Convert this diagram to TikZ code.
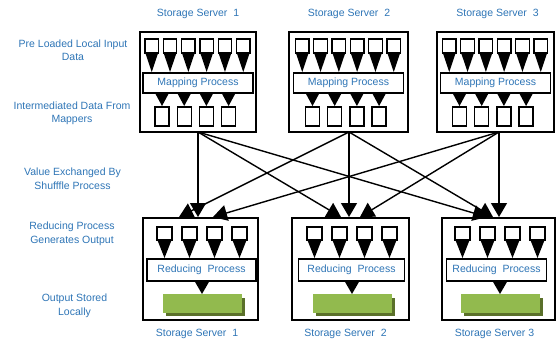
\documentclass[tikz,border=0pt]{standalone}
\usepackage{fontspec}
\setmainfont{Liberation Sans}
\usetikzlibrary{arrows.meta}
\definecolor{labelblue}{RGB}{46,117,182}
\definecolor{barlight}{RGB}{212,232,170}
\definecolor{baredge}{RGB}{146,186,78}
\definecolor{barshadow}{RGB}{90,112,42}

\begin{document}
\begin{tikzpicture}[x=1pt,y=-1pt,
  txt/.style={text=labelblue, font=\fontsize{10.5}{13.5}\selectfont, align=center, inner sep=0pt},
  serverbox/.style={draw, line width=1.8pt, fill=white, inner sep=0pt},
  procbox/.style={draw, line width=1.3pt, fill=white, inner sep=0pt, text=labelblue,
                  font=\fontsize{10.5}{12}\selectfont},
  cell/.style={draw, line width=1.3pt, fill=white},
  flow/.style={line width=1.4pt, -{Triangle[width=16pt,length=14pt]}}
]
\useasboundingbox (0,0) rectangle (557,345);

% ---------- mapper servers ----------
\foreach \C/\W/\n in {198/116/1, 348.5/119/2, 495.5/117/3}{
  \node[serverbox, minimum width=\W pt, minimum height=100pt] (map\n) at (\C,82) {};
  % input blocks
  \foreach \i in {0,...,5}{
    \pgfmathsetmacro\xx{\C-53+18.3*\i}
    \fill (\xx,52) -- ++(13.5,0) -- ++(-6.75,20) -- cycle;
    \draw[cell] (\xx,39) rectangle ++(13.5,14);
  }
  \node[procbox, minimum width=110pt, minimum height=20pt] (mp\n) at (\C,83) {Mapping Process};
  % intermediate blocks
  \foreach \i in {0,...,3}{
    \pgfmathsetmacro\xx{\C-43+22.2*\i}
    \fill (\xx,93) -- ++(14,0) -- ++(-7,13) -- cycle;
    \draw[cell] (\xx,107) rectangle ++(14,19);
  }
}

% ---------- reducer servers ----------
\foreach \C/\W/\P/\n in {200.5/115/109/1, 350.5/117/106/2, 498.5/113/100/3}{
  \node[serverbox, minimum width=\W pt, minimum height=102pt] (red\n) at (\C,269) {};
  \foreach \i in {0,...,3}{
    \pgfmathsetmacro\xx{\C-43.5+25*\i}
    \fill (\xx,239) -- ++(15,0) -- ++(-7.5,19) -- cycle;
    \draw[cell] (\xx,227) rectangle ++(15,13);
  }
  \pgfmathsetmacro\pc{\C+(\n==3?-2:1)}
  \node[procbox, minimum width=\P pt, minimum height=22pt] (rp\n) at (\pc,270) {Reducing~~Process};
  \fill (\C+1.5-7.5,281) -- ++(15,0) -- ++(-7.5,13) -- cycle;
  % locally stored output
  \fill[barshadow] (\C-34.5,298) rectangle ++(78.5,18);
  \shade[top color=baredge, middle color=barlight, bottom color=baredge]
        (\C-37.5,294) rectangle ++(78.5,18);
  \draw[baredge, line width=0.8pt] (\C-37.5,294) rectangle ++(78.5,18);
}

% ---------- shuffle connectors ----------
\coordinate (m1out) at (198,132);
\coordinate (m2out) at (349,132);
\coordinate (m3out) at (499,132);
\coordinate (r1a) at (179,217);
\coordinate (r1b) at (198,217);
\coordinate (r1c) at (213,217);
\coordinate (r2a) at (341,217);
\coordinate (r2b) at (349,217);
\coordinate (r2c) at (360,217);
\coordinate (r3a) at (487,217);
\coordinate (r3b) at (493,217);
\coordinate (r3c) at (499,217);

\draw[flow] (m1out) -- (r1b);
\draw[flow] (m1out) -- (r2a);
\draw[flow] (m1out) -- (r3a);
\draw[flow] (m2out) -- (r1a);
\draw[flow] (m2out) -- (r2b);
\draw[flow] (m2out) -- (r3b);
\draw[flow] (m3out) -- (r1c);
\draw[flow] (m3out) -- (r2c);
\draw[flow] (m3out) -- (r3c);

% ---------- server captions ----------
\node[txt] (top1) at (198,14) {Storage Server~~1};
\node[txt] (top2) at (349,14) {Storage Server~~2};
\node[txt] (top3) at (497.5,14) {Storage Server~~3};
\node[txt] (bot1) at (197,334) {Storage Server~~1};
\node[txt] (bot2) at (345.5,334) {Storage Server~~2};
\node[txt] (bot3) at (494.5,334) {Storage Server 3};

% ---------- stage descriptions ----------
\node[txt] (lab1) at (73,50) {Pre Loaded Local Input\\Data};
\node[txt] (lab2) at (72,113.5) {Intermediated Data From\\Mappers};
\node[txt] (lab3) at (72.5,178.5) {Value Exchanged By\\Shufffle Process};
\node[txt] (lab4) at (72,234) {Reducing Process\\Generates Output};
\node[txt] (lab5) at (74.5,306) {Output Stored\\Locally};
\end{tikzpicture}
\end{document}
